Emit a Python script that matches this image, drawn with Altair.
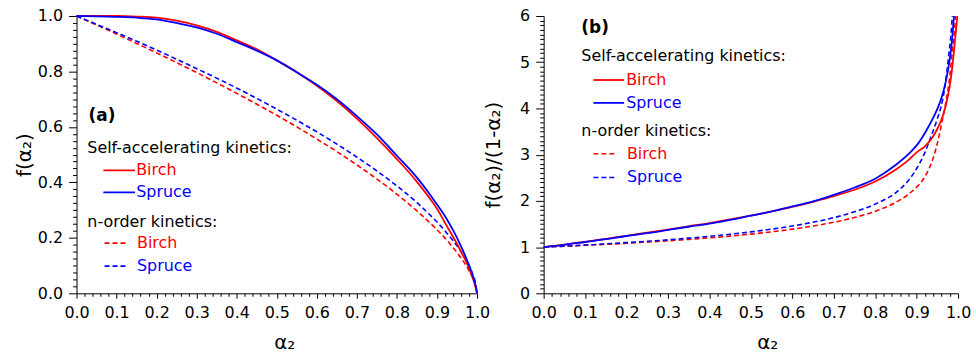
import altair as alt
import pandas as pd

FONT = "DejaVu Sans"
RED = "#ff0000"
BLUE = "#0000ff"

# ---------- panel (a): f(alpha2) ----------
alpha_a = [0, 0.05, 0.1, 0.15, 0.2, 0.25, 0.3, 0.35, 0.4, 0.45, 0.5, 0.55, 0.6, 0.65,
           0.7, 0.75, 0.8, 0.85, 0.88, 0.9, 0.92, 0.94, 0.95, 0.96, 0.97, 0.98, 0.985,
           0.99, 0.995, 1.0]
f_birch_sa = [1.0, 1.0, 1.0, 0.998, 0.994, 0.983, 0.966, 0.943, 0.912, 0.880, 0.840, 0.797,
              0.748, 0.693, 0.630, 0.560, 0.484, 0.402, 0.346, 0.305, 0.254, 0.204, 0.178,
              0.150, 0.122, 0.090, 0.072, 0.052, 0.029, 0.0]
f_spruce_sa = [1.0, 0.999, 0.997, 0.994, 0.988, 0.975, 0.959, 0.936, 0.906, 0.875, 0.840, 0.797,
               0.752, 0.700, 0.639, 0.573, 0.496, 0.417, 0.361, 0.320, 0.278, 0.228, 0.200,
               0.169, 0.137, 0.101, 0.082, 0.060, 0.035, 0.0]
f_birch_n = [1.0, 0.968, 0.935, 0.901, 0.867, 0.832, 0.796, 0.759, 0.721, 0.682, 0.642, 0.600,
             0.556, 0.511, 0.463, 0.412, 0.357, 0.297, 0.257, 0.229, 0.199, 0.165, 0.147,
             0.127, 0.106, 0.082, 0.068, 0.053, 0.034, 0.0]
f_spruce_n = [1.0, 0.970, 0.940, 0.909, 0.877, 0.844, 0.810, 0.776, 0.740, 0.703, 0.664, 0.624,
              0.582, 0.538, 0.491, 0.441, 0.387, 0.327, 0.286, 0.257, 0.225, 0.190, 0.171,
              0.150, 0.126, 0.100, 0.084, 0.066, 0.044, 0.0]

# ---------- panel (b): f(alpha2)/(1-alpha2) ----------
alpha_b_birch_sa = [0, 0.05, 0.1, 0.15, 0.2, 0.25, 0.3, 0.35, 0.4, 0.45, 0.5, 0.55, 0.6, 0.65,
                    0.7, 0.75, 0.8, 0.85, 0.88, 0.9, 0.92, 0.94, 0.95, 0.96, 0.97, 0.98, 0.985,
                    0.99, 0.995, 0.998]
g_birch_sa = [1.0, 1.055, 1.115, 1.175, 1.245, 1.31, 1.38, 1.45, 1.52, 1.60, 1.68, 1.77, 1.87,
              1.98, 2.10, 2.24, 2.42, 2.68, 2.88, 3.05, 3.18, 3.40, 3.56, 3.76, 4.05, 4.50,
              4.82, 5.24, 5.70, 6.0]
alpha_b_spruce_sa = [0, 0.05, 0.1, 0.15, 0.2, 0.25, 0.3, 0.35, 0.4, 0.45, 0.5, 0.55, 0.6, 0.65,
                     0.7, 0.75, 0.8, 0.85, 0.88, 0.9, 0.92, 0.94, 0.95, 0.96, 0.97, 0.98, 0.985,
                     0.99]
g_spruce_sa = [1.0, 1.05, 1.11, 1.17, 1.24, 1.30, 1.37, 1.44, 1.51, 1.59, 1.68, 1.77, 1.88, 1.99,
               2.13, 2.29, 2.48, 2.78, 3.01, 3.20, 3.47, 3.80, 3.99, 4.23, 4.57, 5.07, 5.45, 6.0]
alpha_b_birch_n = [0, 0.05, 0.1, 0.15, 0.2, 0.25, 0.3, 0.35, 0.4, 0.45, 0.5, 0.55, 0.6, 0.65,
                   0.7, 0.75, 0.8, 0.85, 0.88, 0.9, 0.914, 0.93, 0.94, 0.954, 0.962, 0.971, 0.98,
                   0.986, 0.991, 0.994]
g_birch_n = [1.0, 1.018, 1.038, 1.06, 1.083, 1.108, 1.136, 1.166, 1.20, 1.237, 1.28, 1.33, 1.388,
             1.455, 1.537, 1.64, 1.775, 1.97, 2.14, 2.30, 2.44, 2.70, 2.93, 3.40, 3.75, 4.16,
             4.70, 5.24, 5.65, 6.0]
alpha_b_spruce_n = [0, 0.05, 0.1, 0.15, 0.2, 0.25, 0.3, 0.35, 0.4, 0.45, 0.5, 0.55, 0.6, 0.65,
                    0.7, 0.75, 0.8, 0.85, 0.88, 0.9, 0.92, 0.935, 0.95, 0.962, 0.97, 0.978,
                    0.983, 0.986]
g_spruce_n = [1.0, 1.02, 1.044, 1.069, 1.096, 1.125, 1.157, 1.193, 1.233, 1.278, 1.329, 1.388,
              1.456, 1.538, 1.637, 1.763, 1.93, 2.18, 2.44, 2.70, 3.05, 3.40, 3.78, 4.16, 4.58,
              5.20, 5.62, 6.0]

# ---------- axis ticks (major + minor positions) ----------
x_ticks = [round(i * 0.02, 3) for i in range(51)]
ya_ticks = [round(i * 0.025, 4) for i in range(41)]
yb_ticks = [round(i * 0.1, 2) for i in range(61)]

# ---------- in-plot legend entries ----------
legend_heads = ["Self-accelerating kinetics:", "n-order kinetics:"]
legend_names = ["Birch", "Spruce", "Birch", "Spruce"]
legend_colors = [RED, BLUE, RED, BLUE]
legend_dashed = [False, False, True, True]

# panel (a) legend anchors (data units)
leg_a_tag = (0.030, 0.640)
leg_a_head_x = 0.027
leg_a_head_y = [0.525, 0.256]
leg_a_line_x = [(0.067, 0.146), (0.067, 0.146), (0.070, 0.127), (0.070, 0.127)]
leg_a_text_x = [0.149, 0.149, 0.151, 0.151]
leg_a_item_y = [0.443, 0.364, 0.181, 0.098]

# panel (b) legend anchors (data units)
leg_b_tag = (0.091, 5.735)
leg_b_head_x = 0.091
leg_b_head_y = [5.13, 3.517]
leg_b_line_x = [(0.120, 0.194), (0.120, 0.194), (0.120, 0.178), (0.120, 0.178)]
leg_b_text_x = [0.199, 0.199, 0.201, 0.201]
leg_b_item_y = [4.615, 4.12, 3.02, 2.505]


def major_test(k):
    return f"abs(datum.value*{k} - round(datum.value*{k})) < 1e-6"


def make_axis(title, values, k, fmt, major_size, minor_size, **extra):
    test = major_test(k)
    return alt.Axis(
        title=title,
        values=values,
        tickCount=1000,
        labelExpr=f"{test} ? format(datum.value, '{fmt}') : ''",
        tickSize={"condition": {"test": test, "value": major_size}, "value": minor_size},
        labelOverlap=False,
        labelFlush=False,
        grid=False,
        **extra,
    )


def curve(xs, ys, color, dashed, xenc, yenc):
    df = pd.DataFrame({"a": xs, "v": ys})
    if dashed:
        mk = alt.Chart(df).mark_line(color=color, strokeWidth=1.6, strokeDash=[5, 3],
                                     interpolate="monotone")
    else:
        mk = alt.Chart(df).mark_line(color=color, strokeWidth=1.8, interpolate="monotone")
    return mk.encode(x=xenc, y=yenc)


def legend_layers(tag, tag_text, head_x, head_y, line_x, text_x, item_y):
    layers = []
    tag_df = pd.DataFrame({"a": [tag[0]], "v": [tag[1]], "t": [tag_text]})
    layers.append(
        alt.Chart(tag_df).mark_text(align="left", baseline="middle", font=FONT, fontSize=17,
                                    fontWeight="bold", color="black")
        .encode(x="a:Q", y="v:Q", text="t:N")
    )
    head_df = pd.DataFrame({"a": [head_x] * 2, "v": head_y, "t": legend_heads})
    layers.append(
        alt.Chart(head_df).mark_text(align="left", baseline="middle", font=FONT, fontSize=16,
                                     color="black")
        .encode(x="a:Q", y="v:Q", text="t:N")
    )
    for i in range(4):
        seg = pd.DataFrame({"x1": [line_x[i][0]], "x2": [line_x[i][1]], "v": [item_y[i]]})
        props = dict(color=legend_colors[i], strokeWidth=1.6 if legend_dashed[i] else 1.8)
        if legend_dashed[i]:
            props["strokeDash"] = [5, 3]
        layers.append(
            alt.Chart(seg).mark_rule(**props).encode(x="x1:Q", x2="x2:Q", y="v:Q")
        )
        lab = pd.DataFrame({"a": [text_x[i]], "v": [item_y[i]], "t": [legend_names[i]]})
        layers.append(
            alt.Chart(lab).mark_text(align="left", baseline="middle", font=FONT, fontSize=16,
                                     color=legend_colors[i])
            .encode(x="a:Q", y="v:Q", text="t:N")
        )
    return layers


# ----- panel (a) -----
xa = alt.X("a:Q", scale=alt.Scale(domain=[0, 1], nice=False, zero=False),
           axis=make_axis("α₂", x_ticks, 10, ".1f", 5, 3, titleX=209, titleY=50))
ya = alt.Y("v:Q", scale=alt.Scale(domain=[0, 1], nice=False, zero=False),
           axis=make_axis("f(α₂)", ya_ticks, 5, ".1f", 8, 4, titleX=-52))

layers_a = [
    curve(alpha_a, f_birch_n, RED, True, xa, ya),
    curve(alpha_a, f_spruce_n, BLUE, True, xa, ya),
    curve(alpha_a, f_birch_sa, RED, False, xa, ya),
    curve(alpha_a, f_spruce_sa, BLUE, False, xa, ya),
]
layers_a += legend_layers(leg_a_tag, "(a)", leg_a_head_x, leg_a_head_y, leg_a_line_x,
                          leg_a_text_x, leg_a_item_y)
panel_a = alt.layer(*layers_a).properties(width=403, height=279)

# ----- panel (b) -----
xb = alt.X("a:Q", scale=alt.Scale(domain=[0, 1], nice=False, zero=False),
           axis=make_axis("α₂", x_ticks, 10, ".1f", 5, 3, titleX=225, titleY=50))
yb = alt.Y("v:Q", scale=alt.Scale(domain=[0, 6], nice=False, zero=False),
           axis=make_axis("f(α₂)/(1-α₂)", yb_ticks, 1, "d", 8, 4, titleX=-50))

layers_b = [
    curve(alpha_b_birch_n, g_birch_n, RED, True, xb, yb),
    curve(alpha_b_spruce_n, g_spruce_n, BLUE, True, xb, yb),
    curve(alpha_b_birch_sa, g_birch_sa, RED, False, xb, yb),
    curve(alpha_b_spruce_sa, g_spruce_sa, BLUE, False, xb, yb),
]
layers_b += legend_layers(leg_b_tag, "(b)", leg_b_head_x, leg_b_head_y, leg_b_line_x,
                          leg_b_text_x, leg_b_item_y)
panel_b = alt.layer(*layers_b).properties(width=417, height=279)

chart = (
    alt.hconcat(panel_a, panel_b, spacing=67, bounds="flush")
    .properties(padding={"left": 15, "top": 7, "right": 5, "bottom": 5}, background="white")
    .configure_view(stroke=None)
    .configure_axis(
        domainColor="black", domainWidth=1, tickColor="black", tickWidth=1,
        labelColor="black", labelFont=FONT, labelFontSize=16, labelPadding=6,
        titleColor="black", titleFont=FONT, titleFontSize=20, titleFontWeight="normal",
    )
    .configure_axisLeft(titleBaseline="middle", titlePadding=4)
    .configure_axisBottom(titleBaseline="middle", titlePadding=8)
)

chart.save("out.html", embed_options={"renderer": "svg", "actions": False})
